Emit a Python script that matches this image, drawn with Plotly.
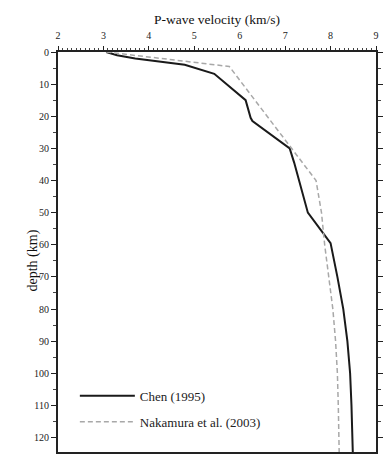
import plotly.graph_objects as go

# Chen (1995)
chen_v = [3.06, 3.3, 3.7, 4.79, 5.44, 6.13, 6.24, 6.28, 7.1, 7.2, 7.5, 8.0, 8.15, 8.28, 8.37, 8.43, 8.46, 8.48, 8.49]
chen_d = [0, 1, 2, 4, 6.8, 15, 20.5, 21.5, 30, 34.5, 50, 59.5, 70, 80, 90, 100, 110, 120, 125]

# Nakamura et al. (2003)
naka_v = [3.06, 5.77, 7.68, 7.8, 7.87, 7.96, 8.05, 8.11, 8.15, 8.17, 8.19, 8.19]
naka_d = [0, 4.5, 40, 50, 60, 70, 80, 90, 100, 110, 120, 125]

x_ticks = [2, 3, 4, 5, 6, 7, 8, 9]
y_ticks = [0, 10, 20, 30, 40, 50, 60, 70, 80, 90, 100, 110, 120]

FONT = "Liberation Serif"

fig = go.Figure()
fig.add_trace(go.Scatter(x=chen_v, y=chen_d, mode="lines", name="Chen (1995)",
                         legendgroup="a",
                         line=dict(color="#1a1a1a", width=2)))
fig.add_trace(go.Scatter(x=naka_v, y=naka_d, mode="lines", name="Nakamura et al. (2003)",
                         legendgroup="b",
                         line=dict(color="#a8a8a8", width=1.5, dash="5px,3px")))

fig.update_layout(
    width=383, height=454,
    margin=dict(l=58, r=2, t=52, b=0),
    paper_bgcolor="white", plot_bgcolor="white",
    font=dict(family=FONT, color="#222", size=10),
    showlegend=True,
    legend=dict(x=0.053, y=0.178, xanchor="left", yanchor="top",
                bgcolor="rgba(255,255,255,0)", font=dict(family=FONT, size=13, color="#222"),
                traceorder="grouped", tracegroupgap=6, itemwidth=55),
    xaxis=dict(range=[2, 9], side="top", tickvals=x_ticks,
               showgrid=False, zeroline=False,
               showline=True, linecolor="#222", linewidth=1.5, mirror=True,
               ticks="outside", ticklen=4, tickcolor="#222", tickwidth=1,
               ticklabelstandoff=3,
               minor=dict(dtick=0.1, ticks="outside", ticklen=2, tickcolor="#444", showgrid=False),
               tickfont=dict(family=FONT, size=10, color="#222"),
               title=dict(text="P-wave velocity (km/s)", font=dict(family=FONT, size=13.5, color="#111"), standoff=3)),
    yaxis=dict(range=[124.5, 0], tickvals=y_ticks,
               showgrid=False, zeroline=False,
               showline=True, linecolor="#222", linewidth=2, mirror="ticks",
               ticks="outside", ticklen=5, tickcolor="#222", tickwidth=1,
               minor=dict(dtick=5, ticks="outside", ticklen=3, tickcolor="#444", showgrid=False),
               tickfont=dict(family=FONT, size=10, color="#222")),
    annotations=[dict(text="depth (km)", x=0, y=0, xref="paper", yref="paper",
                      showarrow=False, textangle=-90,
                      font=dict(family=FONT, size=14, color="#111"))],
)
plot_w = 383 - 58 - 2
plot_h = 454 - 52 - 0
fig.layout.annotations[0].x = (22 - 58) / plot_w
fig.layout.annotations[0].y = (454 - 262) / plot_h

fig.write_html("out.html")
